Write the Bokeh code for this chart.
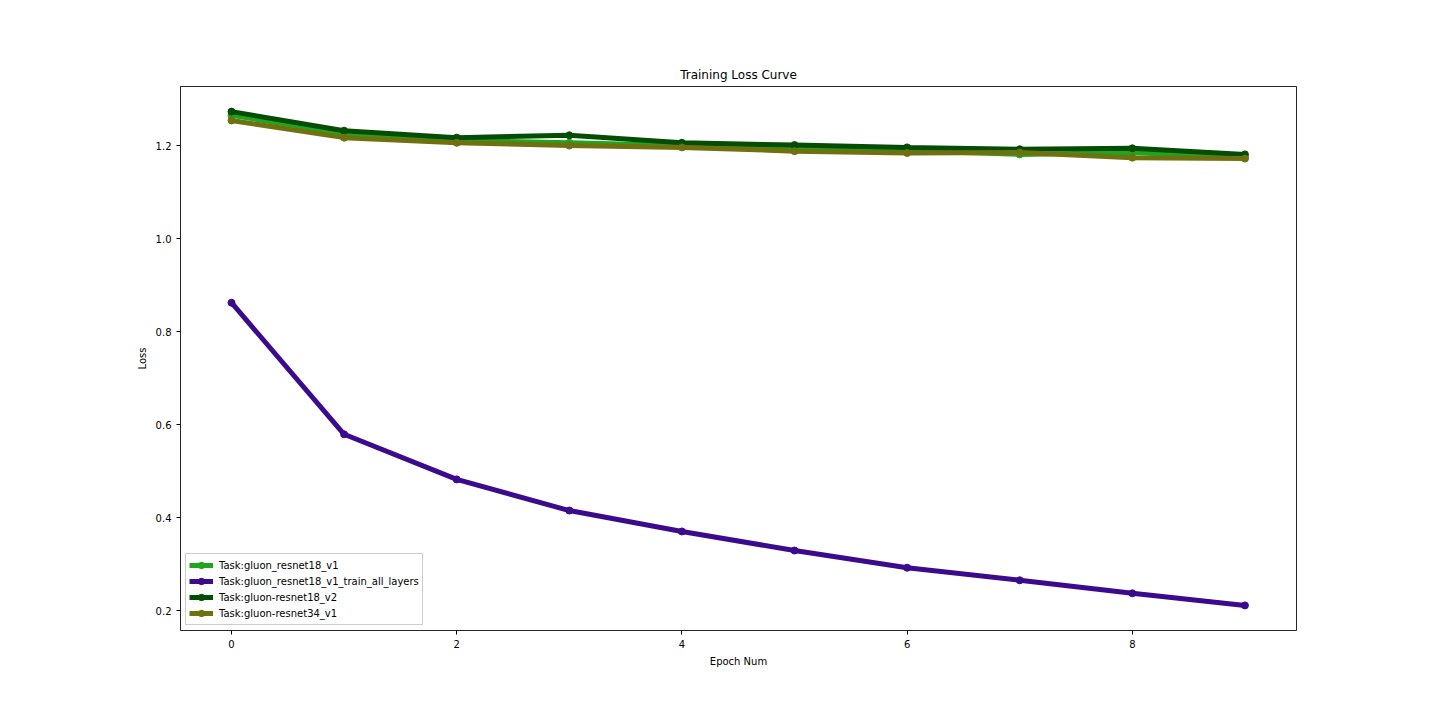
from bokeh.plotting import figure
from bokeh.embed import file_html
from bokeh.resources import INLINE
from bokeh.models import Range1d, FixedTicker, Legend, LegendItem, PrintfTickFormatter

epochs = [0, 1, 2, 3, 4, 5, 6, 7, 8, 9]
names = ["Task:gluon_resnet18_v1", "Task:gluon_resnet18_v1_train_all_layers",
         "Task:gluon-resnet18_v2", "Task:gluon-resnet34_v1"]
resnet18_v1 = [1.265, 1.226, 1.211, 1.206, 1.200, 1.196, 1.189, 1.181, 1.185, 1.174]
resnet18_v1_all = [0.862, 0.579, 0.482, 0.415, 0.370, 0.329, 0.292, 0.265, 0.237, 0.211]
resnet18_v2 = [1.273, 1.232, 1.217, 1.222, 1.206, 1.201, 1.196, 1.192, 1.194, 1.181]
resnet34_v1 = [1.254, 1.217, 1.206, 1.200, 1.196, 1.188, 1.184, 1.185, 1.174, 1.172]
colors = ["#1fa61f", "#3c0a8c", "#054d05", "#6f700f"]
series = [resnet18_v1, resnet18_v1_all, resnet18_v2, resnet34_v1]

p = figure(width=1424, height=704, output_backend="svg", toolbar_location=None,
           x_range=Range1d(-0.453, 9.458), y_range=Range1d(0.157, 1.327),
           min_border_left=180, min_border_right=128, min_border_top=86, min_border_bottom=74,
           title="Training Loss Curve")
p.title.align = "center"
p.title.text_font = "DejaVu Sans"
p.title.text_font_size = "12px"
p.title.text_font_style = "normal"
p.title.text_color = "black"

p.xgrid.visible = False
p.ygrid.visible = False
p.outline_line_color = "black"
p.outline_line_width = 1
p.outline_line_alpha = 0.85

p.xaxis.ticker = FixedTicker(ticks=[0, 2, 4, 6, 8])
p.yaxis.ticker = FixedTicker(ticks=[0.2, 0.4, 0.6, 0.8, 1.0, 1.2])
p.yaxis.formatter = PrintfTickFormatter(format="%.1f")
p.xaxis.axis_label = "Epoch Num"
p.yaxis.axis_label = "Loss"
for ax in [p.xaxis, p.yaxis]:
    ax.axis_label_text_font = "DejaVu Sans"
    ax.axis_label_text_font_size = "10px"
    ax.axis_label_text_font_style = "normal"
    ax.major_label_text_font = "DejaVu Sans"
    ax.major_label_text_font_size = "10px"
    ax.major_tick_in = 0
    ax.major_tick_out = 4
    ax.minor_tick_line_color = None
    ax.axis_line_color = None
    ax.major_tick_line_color = "black"
    ax.major_label_text_color = "black"
    ax.axis_label_text_color = "black"

items = []
for name, ys, c in zip(names, series, colors):
    l = p.line(epochs, ys, line_color=c, line_width=5)
    m = p.scatter(epochs, ys, size=7, fill_color=c, line_color=c)
    items.append(LegendItem(label=name, renderers=[l, m]))

legend = Legend(items=items, location="bottom_left")
legend.label_text_font = "DejaVu Sans"
legend.label_text_font_size = "10px"
legend.label_text_color = "black"
legend.spacing = 0
legend.padding = 3
legend.margin = 5
legend.glyph_width = 24
legend.glyph_height = 16
legend.label_height = 16
legend.label_standoff = 6
legend.border_line_color = "#cccccc"
legend.border_line_alpha = 1
legend.background_fill_alpha = 0.8
p.add_layout(legend)

open("out.html", "w").write(file_html(p, INLINE))
